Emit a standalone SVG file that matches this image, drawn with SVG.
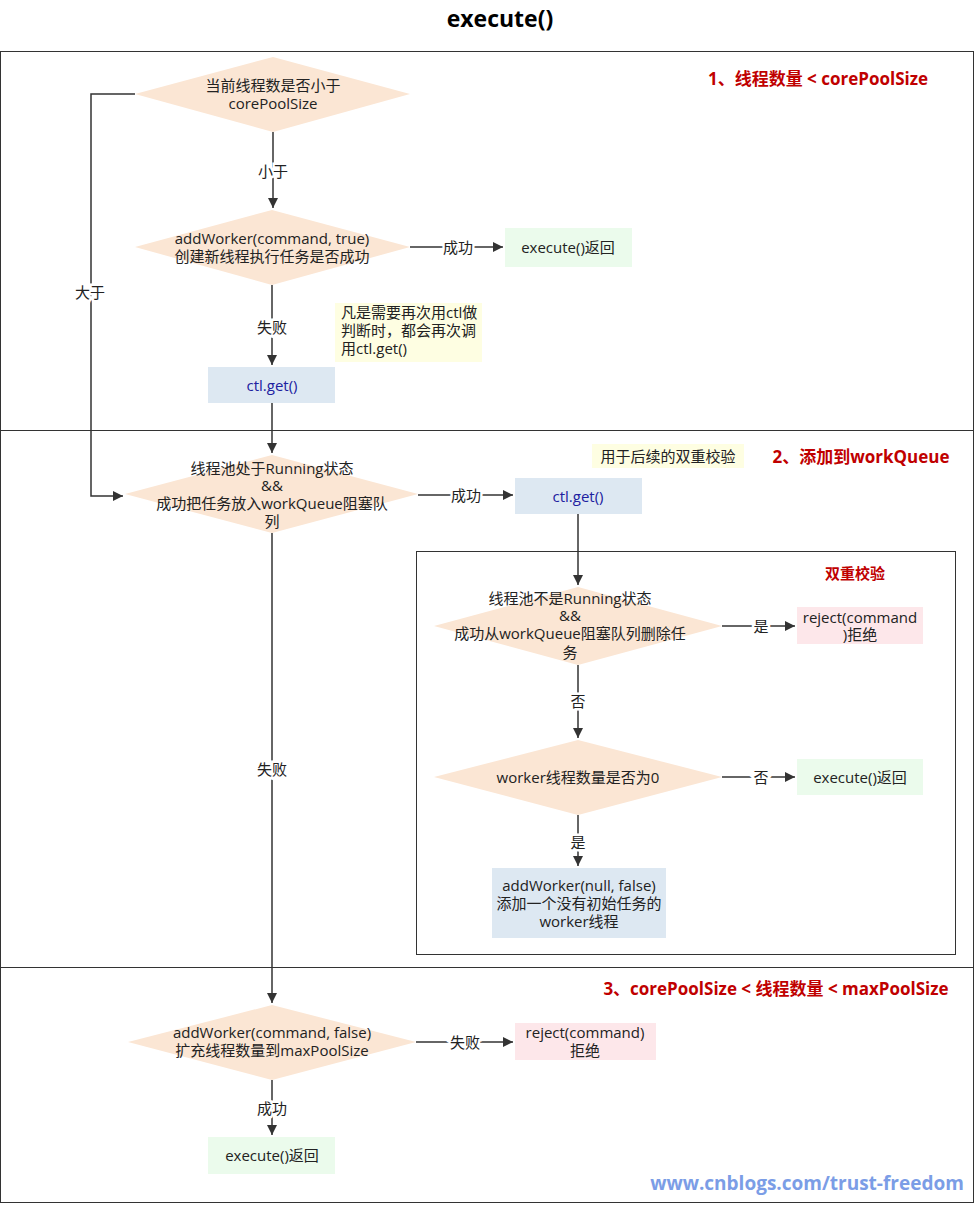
<svg xmlns="http://www.w3.org/2000/svg" width="975" height="1205" viewBox="0 0 975 1205">
<defs>
<marker id="arr" viewBox="0 0 10 10" refX="10" refY="5" markerWidth="10" markerHeight="10" markerUnits="userSpaceOnUse" orient="auto">
<path d="M0,0 L10,5 L0,10 Z" fill="#333"/>
</marker>
</defs>
<style>
text{font-family:"Open Sans","Noto Sans CJK SC",sans-serif;font-size:15px;fill:#222;text-anchor:middle;dominant-baseline:central}
.dia{fill:#fbe6d4}
.green{fill:#ebfbec}
.blue{fill:#dde8f2}
.pink{fill:#fde7ea}
.yel{fill:#fefee2}
.frame{fill:none;stroke:#333;stroke-width:1}
.conn{fill:none;stroke:#333;stroke-width:1.5}
.lbl{stroke:#fff;stroke-width:5;paint-order:stroke}
.red{fill:#c00000;font-weight:bold;font-size:17px}
.bt{fill:#2020a0}
</style>
<rect width="975" height="1205" fill="#fff"/>
<text x="500" y="18" style="font-weight:bold;font-size:23px;fill:#000">execute()</text>
<g id="frames">
<rect class="frame" x="0.5" y="51.5" width="973" height="1151"/>
<line class="frame" x1="0" y1="430.5" x2="974" y2="430.5"/>
<line class="frame" x1="0" y1="967.5" x2="974" y2="967.5"/>
<rect class="frame" x="416.5" y="551.5" width="539" height="403"/>
</g>
<g id="section-labels">
<text class="red" x="818" y="78">1、线程数量 &lt; corePoolSize</text>
<text class="red" x="861" y="456">2、添加到workQueue</text>
<text class="red" x="855" y="573" style="font-size:15px">双重校验</text>
<text class="red" x="776" y="988">3、corePoolSize &lt; 线程数量 &lt;  maxPoolSize</text>
<text x="807" y="1183" style="font-weight:bold;font-size:19px;fill:#7b9de6">www.cnblogs.com/trust-freedom</text>
</g>
<g id="connectors">
<path class="conn" d="M273,132 V208" marker-end="url(#arr)"/>
<path class="conn" d="M410,247 H503" marker-end="url(#arr)"/>
<path class="conn" d="M272,285 V365" marker-end="url(#arr)"/>
<path class="conn" d="M272,403 V453" marker-end="url(#arr)"/>
<path class="conn" d="M135,94 H91 V496 H123" marker-end="url(#arr)"/>
<path class="conn" d="M418,495 H513" marker-end="url(#arr)"/>
<path class="conn" d="M578,514 V585" marker-end="url(#arr)"/>
<path class="conn" d="M722,626 H795" marker-end="url(#arr)"/>
<path class="conn" d="M578,665 V738" marker-end="url(#arr)"/>
<path class="conn" d="M722,777 H795" marker-end="url(#arr)"/>
<path class="conn" d="M578,815 V866" marker-end="url(#arr)"/>
<path class="conn" d="M272,533 V1003" marker-end="url(#arr)"/>
<path class="conn" d="M416,1042 H513" marker-end="url(#arr)"/>
<path class="conn" d="M272,1080 V1135" marker-end="url(#arr)"/>
<text class="lbl" x="273" y="171">小于</text>
<text class="lbl" x="458" y="247">成功</text>
<text class="lbl" x="272" y="327">失败</text>
<text class="lbl" x="90" y="292">大于</text>
<text class="lbl" x="466" y="495">成功</text>
<text class="lbl" x="761" y="626">是</text>
<text class="lbl" x="578" y="701">否</text>
<text class="lbl" x="761" y="777">否</text>
<text class="lbl" x="578" y="842">是</text>
<text class="lbl" x="272" y="769">失败</text>
<text class="lbl" x="465" y="1042">失败</text>
<text class="lbl" x="272" y="1108">成功</text>
</g>
<g id="d1">
<polygon class="dia" points="273,57 410,94 273,132 135,94"/>
<text x="273" y="85">当前线程数是否小于</text>
<text x="273" y="103">corePoolSize</text>
</g>
<g id="d2">
<polygon class="dia" points="272,210 410,247 272,285 135,247"/>
<text x="272" y="238">addWorker(command, true)</text>
<text x="272" y="256">创建新线程执行任务是否成功</text>
</g>
<g id="r1">
<rect class="green" x="505" y="228" width="127" height="39"/>
<text x="568" y="247">execute()返回</text>
</g>
<g id="note1">
<rect class="yel" x="335" y="303" width="147" height="59"/>
<text x="341" y="312" style="text-anchor:start">凡是需要再次用ctl做</text>
<text x="341" y="330" style="text-anchor:start">判断时，都会再次调</text>
<text x="341" y="348" style="text-anchor:start">用ctl.get()</text>
</g>
<g id="ctl1">
<rect class="blue" x="208" y="367" width="127" height="36"/>
<text class="bt" x="272" y="385">ctl.get()</text>
</g>
<g id="d3">
<polygon class="dia" points="272,455 418,494 272,533 125,494"/>
<text x="272" y="468">线程池处于Running状态</text>
<text x="272" y="485">&amp;&amp;</text>
<text x="272" y="503">成功把任务放入workQueue阻塞队</text>
<text x="272" y="521">列</text>
</g>
<g id="ctl2">
<rect class="blue" x="515" y="478" width="127" height="36"/>
<text class="bt" x="578" y="496">ctl.get()</text>
</g>
<g id="note2">
<rect class="yel" x="592" y="444" width="152" height="24"/>
<text x="668" y="456">用于后续的双重校验</text>
</g>
<g id="d4">
<polygon class="dia" points="578,587 722,626 578,665 434,626"/>
<text x="570" y="598">线程池不是Running状态</text>
<text x="570" y="615">&amp;&amp;</text>
<text x="570" y="633">成功从workQueue阻塞队列删除任</text>
<text x="570" y="652">务</text>
</g>
<g id="r2">
<rect class="pink" x="797" y="607" width="126" height="37"/>
<text x="860" y="617">reject(command</text>
<text x="860" y="634">)拒绝</text>
</g>
<g id="d5">
<polygon class="dia" points="578,740 722,777 578,815 434,777"/>
<text x="578" y="777">worker线程数量是否为0</text>
</g>
<g id="r3">
<rect class="green" x="797" y="759" width="126" height="36"/>
<text x="860" y="777">execute()返回</text>
</g>
<g id="r4">
<rect class="blue" x="492" y="868" width="174" height="70"/>
<text x="579" y="885">addWorker(null, false)</text>
<text x="579" y="903">添加一个没有初始任务的</text>
<text x="579" y="921">worker线程</text>
</g>
<g id="d6">
<polygon class="dia" points="272,1005 416,1042 272,1080 128,1042"/>
<text x="272" y="1032">addWorker(command, false)</text>
<text x="272" y="1050">扩充线程数量到maxPoolSize</text>
</g>
<g id="r5">
<rect class="pink" x="515" y="1023" width="141" height="37"/>
<text x="585" y="1032">reject(command)</text>
<text x="585" y="1050">拒绝</text>
</g>
<g id="r6">
<rect class="green" x="208" y="1137" width="127" height="37"/>
<text x="272" y="1155">execute()返回</text>
</g>
</svg>
